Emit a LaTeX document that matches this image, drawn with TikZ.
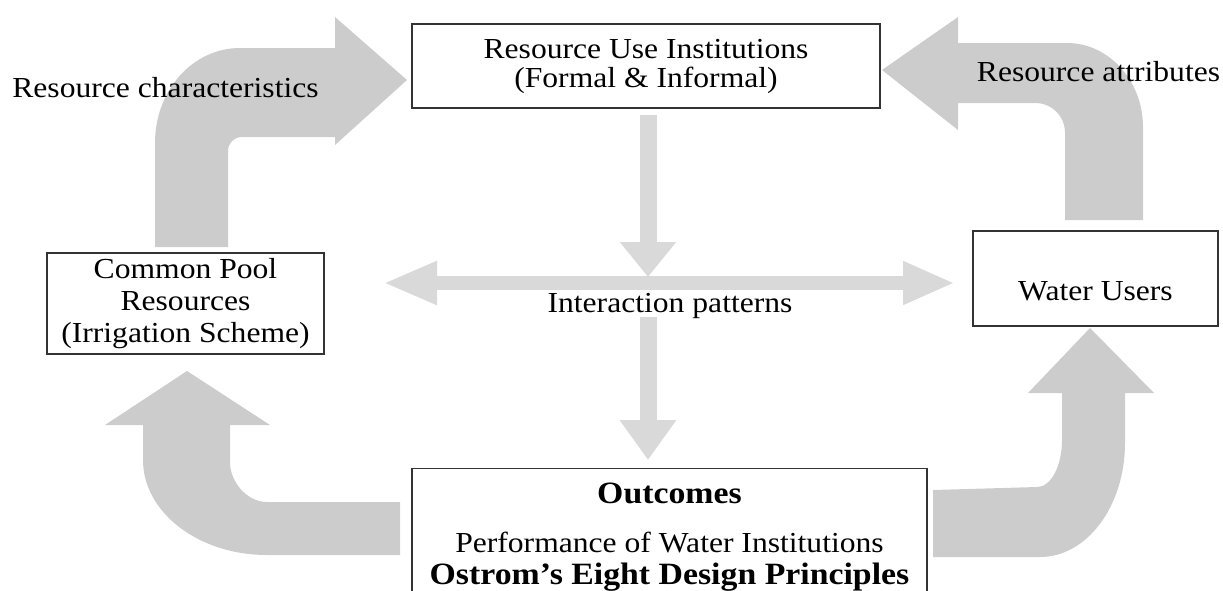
\documentclass[tikz,border=0pt]{standalone}
\usepackage{fontspec}
\setmainfont{Liberation Serif}[FakeStretch=1.09]
\usetikzlibrary{arrows.meta}
\definecolor{bendgray}{HTML}{CCCCCC}
\definecolor{flowgray}{HTML}{D9D9D9}

\begin{document}
\begin{tikzpicture}[x=1pt, y=-1pt,
                    box/.style={draw=black!80, line width=1.4pt, fill=white, align=center, inner sep=0pt,
                                font=\fontsize{29}{29}\selectfont},
                    txt/.style={font=\fontsize{29}{29}\selectfont},
                    flow/.style={draw=flowgray, line width=17pt},
                    bentarrow/.style={fill=bendgray}]
    \useasboundingbox (0,0) rectangle (1223,590);
    \clip (0,0) rectangle (1223,590);

    % bent arrows round the cycle
    \fill[bentarrow] (155,247) -- (155,143) .. controls (155,90) and (193,48) .. (240,48) -- (335,48)
        -- (335,17) -- (407,80) -- (335,145) -- (335,137) -- (242,137)
        .. controls (234,137) and (228,143) .. (228,151) -- (228,247) -- cycle;
    \fill[bentarrow] (1143,220) -- (1143,127) .. controls (1143,81) and (1109,43) .. (1067,43) -- (958,43)
        -- (958,17) -- (882,70) -- (958,130) -- (958,103) -- (1035,103)
        .. controls (1052,103) and (1065,116) .. (1065,133) -- (1065,220) -- cycle;
    \fill[bentarrow] (400,502) -- (267,502) .. controls (247,502) and (230,482) .. (230,462)
        -- (230,425) -- (270,425) -- (187,371) -- (105,425) -- (143,425) -- (143,460)
        .. controls (143,512) and (198,555) .. (267,555) -- (400,555) -- cycle;
    \fill[bentarrow] (933,490) -- (1037,487) .. controls (1051,487) and (1062,466) .. (1062,440)
        -- (1062,393) -- (1028,393) -- (1090,328) -- (1154,393) -- (1125,393) -- (1125,443)
        .. controls (1125,506) and (1087,557) .. (1040,557) -- (933,557) -- cycle;

    % boxes
    \node[box, minimum width=468pt, minimum height=84pt] (inst) at (646,66)
        {Resource Use Institutions\\(Formal \& Informal)};
    \node[box, minimum width=277pt, minimum height=101pt, font=\fontsize{29}{32}\selectfont] (cpr)
        at (185.5,303.5) {Common Pool\\Resources\\(Irrigation Scheme)};
    \node[box, minimum width=245pt, minimum height=95pt, text height=43pt, text depth=0pt] (users)
        at (1095.5,278.5) {Water Users};
    \node[box, anchor=north, minimum width=515pt, inner ysep=14pt, font=\fontsize{29}{27}\selectfont] (out)
        at (669.5,468) {{\fontsize{31}{27}\selectfont\bfseries Outcomes}\\[22pt]
        Performance of Water Institutions\\[5pt]
        {\fontsize{31}{27}\selectfont\bfseries Ostrom’s Eight Design Principles}};

    % labels
    \node[txt] (chars) at (165.5,88) {Resource characteristics};
    \node[txt] (attrs) at (1098.5,72) {Resource attributes};
    \node[txt] (inter) at (670,306) {Interaction patterns};

    % straight flows through the middle
    \coordinate (hub) at (648,283);
    \coordinate (west) at (383,283);
    \coordinate (east) at (955,283);
    \draw[flow, -{Triangle[width=54pt,length=35pt]}] ([yshift=-6pt]inst.south -| hub) -- ([yshift=6pt]hub);
    \draw[flow, line width=14pt, {Triangle[width=40pt,length=54pt]}-{Triangle[width=40pt,length=52pt]}]
        (west) -- (east);
    \draw[flow, -{Triangle[width=54pt,length=40pt]}] ([yshift=-34pt]hub) -- ([yshift=8pt]out.north -| hub);
\end{tikzpicture}
\end{document}
